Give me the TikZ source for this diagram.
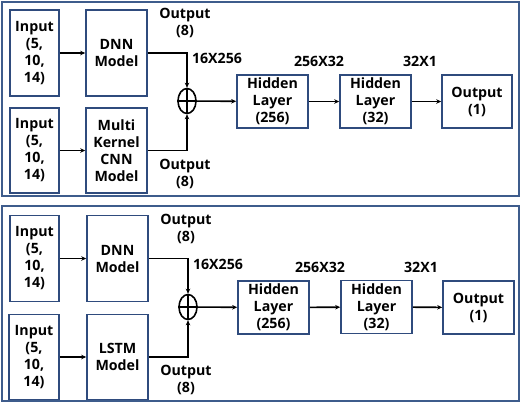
\documentclass[tikz,border=0pt]{standalone}
\usepackage{fontspec}
\setmainfont{Open Sans}
\usetikzlibrary{arrows.meta,shapes.geometric}
\definecolor{boxblue}{RGB}{47,75,125}
\definecolor{panelblue}{RGB}{62,92,140}
\tikzset{
  every node/.style={font=\fontsize{14.2}{17}\selectfont\bfseries, align=center, inner sep=0pt},
  blk/.style={draw=boxblue, line width=1.6pt, fill=white},
  panelbox/.style={draw=panelblue, line width=1.2pt, minimum width=517pt, minimum height=194pt},
  sumnode/.style={ellipse, draw=black, line width=1.6pt, minimum width=18pt, minimum height=25pt},
  conn/.style={line width=1.6pt, -{Stealth[length=5pt,width=4.5pt]}},
  lbl/.style={}
}
\begin{document}
\begin{tikzpicture}[x=1pt,y=-1pt]
\useasboundingbox (0,0) rectangle (521,405);
% ---------- top panel ----------
\node[panelbox] (pa) at (260.5,99) {};
\node[blk, minimum width=49pt, minimum height=86pt] (ina) at (34.5,53) {Input\\(5,\\10,\\14)};
\node[blk, minimum width=61pt, minimum height=86pt] (dnna) at (116.5,53) {DNN\\Model};
\node[blk, minimum width=49pt, minimum height=85pt] (inb) at (34.5,150.5) {Input\\(5,\\10,\\14)};
\node[blk, minimum width=61pt, minimum height=85pt] (cnna) at (116.5,150.5) {Multi\\Kernel\\CNN\\Model};
\node[sumnode] (suma) at (187,101) {};
\draw[line width=1.6pt] (suma.north) -- (suma.south) (suma.west) -- (suma.east);
\node[blk, minimum width=71pt, minimum height=53pt] (h1a) at (272.5,101.5) {Hidden\\Layer\\(256)};
\node[blk, minimum width=71pt, minimum height=53pt] (h2a) at (375.5,101.5) {Hidden\\Layer\\(32)};
\node[blk, minimum width=70pt, minimum height=53pt] (oa) at (477,101.5) {Output\\(1)};
\node[lbl] (l1a) at (185,23) {Output\\(8)};
\node[lbl] (l2a) at (217,58) {16X256};
\node[lbl] (l3a) at (185,173.5) {Output\\(8)};
\node[lbl] (l4a) at (319,61) {256X32};
\node[lbl] (l5a) at (420,61) {32X1};
\draw[conn] (ina) -- (dnna);
\draw[conn] (inb) -- (cnna);
\draw[conn] (dnna.east) -| (suma.north);
\draw[conn] (cnna.east) -| (suma.south);
\draw[conn] (suma) -- (h1a);
\draw[conn] (h1a) -- (h2a);
\draw[conn] (h2a) -- (oa);
% ---------- bottom panel ----------
\node[panelbox, minimum height=195pt] (pb) at (260.5,303.5) {};
\node[blk, minimum width=49pt, minimum height=86pt] (inc) at (34.5,258.5) {Input\\(5,\\10,\\14)};
\node[blk, minimum width=61pt, minimum height=86pt] (dnnb) at (117.5,258.5) {DNN\\Model};
\node[blk, minimum width=50pt, minimum height=85pt] (ind) at (34,357) {Input\\(5,\\10,\\14)};
\node[blk, minimum width=61pt, minimum height=85pt] (lstmb) at (117.5,357) {LSTM\\Model};
\node[sumnode] (sumb) at (188,307) {};
\draw[line width=1.6pt] (sumb.north) -- (sumb.south) (sumb.west) -- (sumb.east);
\node[blk, minimum width=71pt, minimum height=53pt] (h1b) at (273.5,307.5) {Hidden\\Layer\\(256)};
\node[blk, minimum width=71pt, minimum height=53pt] (h2b) at (376.5,307) {Hidden\\Layer\\(32)};
\node[blk, minimum width=71pt, minimum height=53pt] (ob) at (478.5,307.5) {Output\\(1)};
\node[lbl] (l1b) at (186,229) {Output\\(8)};
\node[lbl] (l2b) at (218,264) {16X256};
\node[lbl] (l3b) at (186,380) {Output\\(8)};
\node[lbl] (l4b) at (320,267) {256X32};
\node[lbl] (l5b) at (421,267) {32X1};
\draw[conn] (inc) -- (dnnb);
\draw[conn] (ind) -- (lstmb);
\draw[conn] (dnnb.east) -| (sumb.north);
\draw[conn] (lstmb.east) -| (sumb.south);
\draw[conn] (sumb) -- (h1b);
\draw[conn] (h1b) -- (h2b);
\draw[conn] (h2b) -- (ob);
\end{tikzpicture}
\end{document}
